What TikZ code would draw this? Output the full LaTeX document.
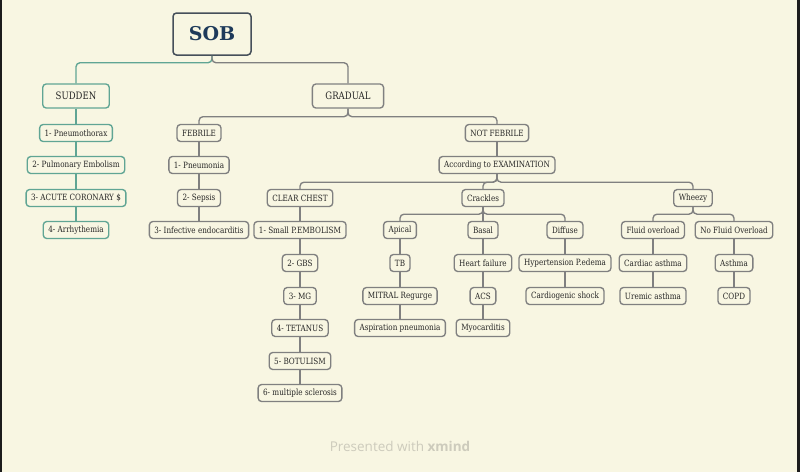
\documentclass[tikz,border=0pt]{standalone}
\usepackage{fontspec}
\setmainfont{DejaVu Serif}
\newfontfamily\nodefont{DejaVu Serif}[FakeStretch=0.84]
\newfontfamily\footfont{Open Sans}
\usetikzlibrary{positioning}
\definecolor{paper}{RGB}{248,246,226}
\definecolor{tealline}{RGB}{96,165,148}
\definecolor{greyline}{RGB}{128,128,128}
\definecolor{ink}{RGB}{38,38,38}
\definecolor{navy}{RGB}{30,58,90}
\definecolor{edgeframe}{RGB}{28,28,28}
\definecolor{footgrey}{RGB}{205,203,188}

\tikzset{
  leaf/.style={draw=greyline, fill=paper, rounded corners=3.5pt, line width=1.35pt,
    text=ink, font=\nodefont\fontsize{8.6}{9}\selectfont, inner xsep=5pt, inner ysep=0pt,
    minimum height=17pt},
  sleaf/.style={leaf, draw=tealline},
  branch/.style={leaf, font=\nodefont\fontsize{10.2}{11}\selectfont, minimum height=24pt, inner xsep=13pt},
  sbranch/.style={branch, draw=tealline},
  hero/.style={leaf, draw={rgb,255:red,70;green,80;blue,90}, text=navy, line width=1.5pt,
    font=\fontsize{19}{20}\selectfont\bfseries, minimum width=78pt, minimum height=42pt},
  gline/.style={draw=greyline, line width=1.35pt, rounded corners=4pt},
  tline/.style={gline, draw=tealline},
}

\begin{document}
\begin{tikzpicture}[x=1pt,y=-1pt]
  \fill[paper] (0,0) rectangle (800,472);
  \fill[edgeframe] (0,0) rectangle (2,472);
  \fill[edgeframe] (797,0) rectangle (800,472);
  \useasboundingbox (0,0) rectangle (800,472);

  % root and main branches
  \node[hero] (sob) at (212,34) {SOB};
  \node[sbranch] (sudden) at (76,96) {SUDDEN};
  \node[branch] (gradual) at (348,96) {GRADUAL};

  % sudden
  \node[sleaf] (s1) at (76,133) {1- Pneumothorax};
  \node[sleaf] (s2) at (76,165) {2- Pulmonary Embolism};
  \node[sleaf] (s3) at (76,198) {3- ACUTE CORONARY \$};
  \node[sleaf] (s4) at (76,230) {4- Arrhythemia};

  % gradual
  \node[leaf] (febrile) at (199,133) {FEBRILE};
  \node[leaf] (f1) at (199,165) {1- Pneumonia};
  \node[leaf] (f2) at (199,198) {2- Sepsis};
  \node[leaf] (f3) at (199,230) {3- Infective endocarditis};
  \node[leaf] (notfeb) at (497,133) {NOT FEBRILE};
  \node[leaf] (exam) at (497,165) {According to EXAMINATION};

  % examination
  \node[leaf] (clear) at (300,198) {CLEAR CHEST};
  \node[leaf] (crackles) at (483,198) {Crackles};
  \node[leaf] (wheezy) at (693,198) {Wheezy};

  \node[leaf] (c1) at (300,230) {1- Small P.EMBOLISM};
  \node[leaf] (c2) at (300,263) {2- GBS};
  \node[leaf] (c3) at (300,296) {3- MG};
  \node[leaf] (c4) at (300,328) {4- TETANUS};
  \node[leaf] (c5) at (300,361) {5- BOTULISM};
  \node[leaf] (c6) at (300,393) {6- multiple sclerosis};

  \node[leaf] (apical) at (400,230) {Apical};
  \node[leaf] (tb) at (400,263) {TB};
  \node[leaf] (mitral) at (400,296) {MITRAL Regurge};
  \node[leaf] (aspir) at (400,328) {Aspiration pneumonia};

  \node[leaf] (basal) at (483,230) {Basal};
  \node[leaf] (hf) at (483,263) {Heart failure};
  \node[leaf] (acs) at (483,296) {ACS};
  \node[leaf] (myo) at (483,328) {Myocarditis};

  \node[leaf] (diffuse) at (565,230) {Diffuse};
  \node[leaf] (hyp) at (565,263) {Hypertension P.edema};
  \node[leaf] (shock) at (565,296) {Cardiogenic shock};

  \node[leaf] (fluid) at (653,230) {Fluid overload};
  \node[leaf] (cardiac) at (653,263) {Cardiac asthma};
  \node[leaf] (uremic) at (653,296) {Uremic asthma};
  \node[leaf] (nofluid) at (734,230) {No Fluid Overload};
  \node[leaf] (asthma) at (734,263) {Asthma};
  \node[leaf] (copd) at (734,296) {COPD};

  % connectors
  \draw[tline] (sob.south) -- ++(0,7) -| (sudden.north);
  \draw[gline] (sob.south) -- ++(0,7) -| (gradual.north);
  \draw[tline] (sudden) -- (s1) (s1) -- (s2) (s2) -- (s3) (s3) -- (s4);

  \draw[gline] (gradual.south) -- ++(0,8) -| (febrile.north);
  \draw[gline] (gradual.south) -- ++(0,8) -| (notfeb.north);
  \draw[gline] (febrile) -- (f1) (f1) -- (f2) (f2) -- (f3);
  \draw[gline] (notfeb) -- (exam);

  \draw[gline] (exam.south) -- ++(0,8) -| (clear.north);
  \draw[gline] (exam.south) -- ++(0,8) -| (crackles.north);
  \draw[gline] (exam.south) -- ++(0,8) -| (wheezy.north);
  \draw[gline] (clear) -- (c1) (c1) -- (c2) (c2) -- (c3) (c3) -- (c4) (c4) -- (c5) (c5) -- (c6);

  \draw[gline] (crackles.south) -- ++(0,7) -| (apical.north);
  \draw[gline] (crackles) -- (basal);
  \draw[gline] (crackles.south) -- ++(0,7) -| (diffuse.north);
  \draw[gline] (apical) -- (tb) (tb) -- (mitral) (mitral) -- (aspir);
  \draw[gline] (basal) -- (hf) (hf) -- (acs) (acs) -- (myo);
  \draw[gline] (diffuse) -- (hyp) (hyp) -- (shock);

  \draw[gline] (wheezy.south) -- ++(0,7) -| (fluid.north);
  \draw[gline] (wheezy.south) -- ++(0,7) -| (nofluid.north);
  \draw[gline] (fluid) -- (cardiac) (cardiac) -- (uremic);
  \draw[gline] (nofluid) -- (asthma) (asthma) -- (copd);

  \node[text=footgrey, font=\footfont\fontsize{13.5}{14}\selectfont] (foot) at (400,446)
    {Presented with \textbf{xmind}};
\end{tikzpicture}
\end{document}
